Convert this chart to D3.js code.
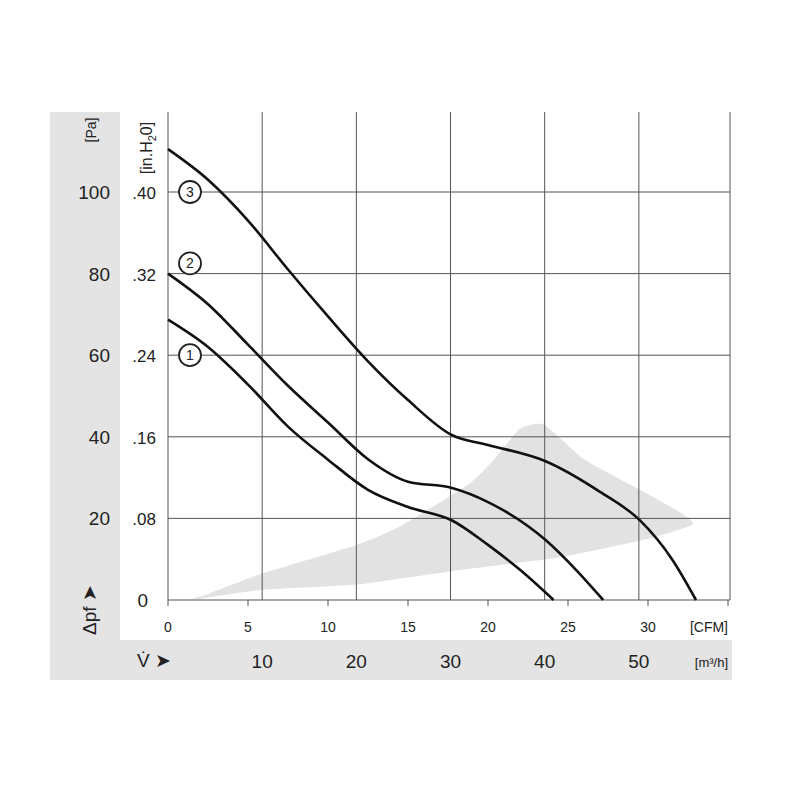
<!DOCTYPE html>
<html lang="en">
<head>
<meta charset="UTF-8" />
<title>Fan curve</title>
<script src="https://d3js.org/d3.v7.min.js"></script>
<style>
  body { margin: 0; background: #fff; }
  text { font-family: "Liberation Sans", Arial, sans-serif; fill: #222; }
  .grid line { stroke: #555; stroke-width: 1px; }
  .curve { fill: none; stroke: #111; stroke-width: 2.6px; }
</style>
</head>
<body>
<svg width="800" height="800"></svg>
<script>
// data (CFM, Pa)
const curve1 = [[0,68.7],[2.5,62],[5,52.8],[7.5,42.5],[10,34.4],[12.5,27],[15,22.8],[17.7,19.6],[20,13.5],[22,7.4],[24.1,0]];
const curve2 = [[0,80],[2.5,72.5],[5,62.6],[7.5,52.5],[10,43.5],[12.5,34.5],[15,29],[17.7,27.5],[20,24],[23.6,14.7],[25.5,7.4],[27.2,0]];
const curve3 = [[0,110.5],[2.5,103],[5,93],[7.5,81],[10,69.5],[12.5,58.5],[15,49],[17.7,40.5],[20,38],[23.6,34],[27,26.5],[29.5,19.5],[31.5,10],[33,0]];
const curveLabels = [{id: '1', y: 60}, {id: '2', y: 82.5}, {id: '3', y: 100}];
const region = [[1.4,0],[5.9,2.5],[11.8,3.8],[17.6,7],[24.5,10.5],[30,15],[32.8,18.5],[32,21.5],[29.5,27],[26,34.5],[23.5,43],[22,42],[20.5,35],[18.9,28.7],[14.5,18],[11.8,13.5],[5.9,6.5],[2.5,1.5]];
const paTicks = [0, 20, 40, 60, 80, 100];
const inTicks = ['', '.08', '.16', '.24', '.32', '.40'];
const cfmTicks = [0, 5, 10, 15, 20, 25, 30];
const m3hTicks = [10, 20, 30, 40, 50];

const svg = d3.select('svg');
const x = d3.scaleLinear().domain([0, 35]).range([168, 728]);
const y = d3.scaleLinear().domain([0, 100]).range([600, 192]);
const plotTop = 112, plotRight = 730;
const m3 = v => x(v / 1.699);

// gray bands
svg.append('rect').attr('x', 50).attr('y', plotTop).attr('width', 70).attr('height', 568).attr('fill', '#e4e4e4');
svg.append('rect').attr('x', 120).attr('y', 640).attr('width', plotRight + 2 - 120).attr('height', 40).attr('fill', '#e4e4e4');

// operating region
svg.append('path').datum(region)
  .attr('d', d3.line().x(d => x(d[0])).y(d => y(d[1])).curve(d3.curveCardinalClosed.tension(0.5)))
  .attr('fill', '#e2e2e2');

// grid
const g = svg.append('g').attr('class', 'grid');
g.selectAll('.v').data(m3hTicks).join('line')
  .attr('x1', d => m3(d)).attr('x2', d => m3(d)).attr('y1', plotTop).attr('y2', 600);
g.selectAll('.h').data(paTicks.slice(1)).join('line')
  .attr('x1', 168).attr('x2', plotRight).attr('y1', d => y(d)).attr('y2', d => y(d));
g.append('line').attr('x1', 168).attr('x2', 168).attr('y1', plotTop).attr('y2', 600);
g.append('line').attr('x1', plotRight).attr('x2', plotRight).attr('y1', plotTop).attr('y2', 600);
g.append('line').attr('x1', 168).attr('x2', plotRight).attr('y1', 600).attr('y2', 600);
g.selectAll('.t').data(d3.range(0, 36, 5)).join('line')
  .attr('x1', d => x(d)).attr('x2', d => x(d)).attr('y1', 600).attr('y2', 606);

// curves
const line = d3.line().x(d => x(d[0])).y(d => y(d[1])).curve(d3.curveMonotoneX);
[curve1, curve2, curve3].forEach(c => svg.append('path').attr('class', 'curve').attr('d', line(c)));

// curve labels
curveLabels.forEach(l => {
  svg.append('circle').attr('cx', 190).attr('cy', y(l.y)).attr('r', 11)
    .attr('fill', '#fff').attr('stroke', '#222').attr('stroke-width', 1.8);
  svg.append('text').attr('x', 190).attr('y', y(l.y) + 5).attr('text-anchor', 'middle')
    .attr('font-size', 14).text(l.id);
});

// y tick labels
svg.selectAll('.pa').data(paTicks).join('text')
  .attr('x', d => d === 0 ? 148 : 110).attr('y', d => y(d) + 7).attr('text-anchor', 'end')
  .attr('font-size', 19).text(d => d);
svg.selectAll('.in').data(inTicks).join('text')
  .attr('x', 156).attr('y', (d, i) => y(paTicks[i]) + 7).attr('text-anchor', 'end')
  .attr('font-size', 17).text(d => d);

// x tick labels
svg.selectAll('.cfm').data(cfmTicks).join('text')
  .attr('x', d => x(d)).attr('y', 632).attr('text-anchor', 'middle')
  .attr('font-size', 14).attr('fill', '#555').text(d => d);
svg.append('text').attr('x', 728).attr('y', 632).attr('text-anchor', 'end').attr('font-size', 14).text('[CFM]');
svg.selectAll('.m3').data(m3hTicks).join('text')
  .attr('x', d => m3(d)).attr('y', 668).attr('text-anchor', 'middle')
  .attr('font-size', 19).text(d => d);
svg.append('text').attr('x', 728).attr('y', 667).attr('text-anchor', 'end').attr('font-size', 13).text('[m³/h]');

// axis titles
svg.append('text').attr('transform', 'translate(96,130) rotate(-90)').attr('text-anchor', 'middle')
  .attr('font-size', 14).text('[Pa]');
const inT = svg.append('text').attr('transform', 'translate(152,148) rotate(-90)').attr('text-anchor', 'middle')
  .attr('font-size', 16);
inT.append('tspan').text('[in.H');
inT.append('tspan').attr('font-size', 11).attr('dy', 4).text('2');
inT.append('tspan').attr('dy', -4).text('0]');
svg.append('text').attr('transform', 'translate(96,610) rotate(-90)').attr('text-anchor', 'middle')
  .attr('font-size', 19).text('Δpf ➤');
svg.append('text').attr('x', 137).attr('y', 667).attr('font-size', 19).text('V̇ ➤');
</script>
</body>
</html>
